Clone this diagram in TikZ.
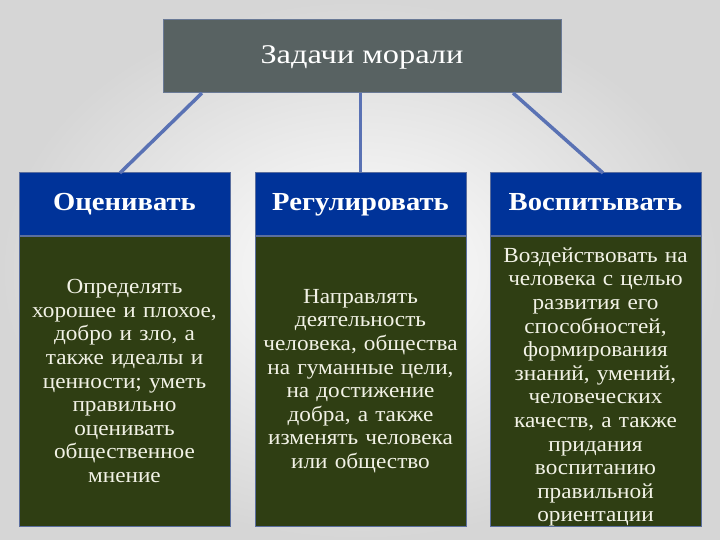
\documentclass[tikz,border=0pt]{standalone}
\usepackage{fontspec}
\setmainfont{Liberation Serif}
\newfontfamily\bodyf[FakeStretch=1.08]{Liberation Serif}
\newfontfamily\headf[FakeStretch=1.1]{Liberation Serif}
\newfontfamily\titlef[FakeStretch=1.2]{Liberation Serif}
\definecolor{bgedge}{HTML}{D6D6D6}
\definecolor{topfill}{HTML}{586262}
\definecolor{topline}{HTML}{6A7A96}
\definecolor{headfill}{HTML}{003399}
\definecolor{bodyfill}{HTML}{2F3E13}
\definecolor{boxline}{HTML}{5A6E9E}
\definecolor{link}{HTML}{5A72B4}
\definecolor{bodytext}{HTML}{F2F2E6}
\tikzset{
  topbox/.style={draw=topline, line width=1pt, fill=topfill, text=white, minimum width=398pt, minimum height=73pt, text height=19pt, text depth=3pt, font=\titlef\fontsize{27}{30}\selectfont},
  headbox/.style={draw=boxline, line width=1pt, fill=headfill, text=white, minimum width=211pt, minimum height=62pt, text height=18pt, text depth=4pt, font=\headf\fontsize{26}{30}\selectfont\bfseries},
  bodybox/.style={draw=boxline, line width=1pt, fill=bodyfill, text=bodytext, minimum width=211pt, minimum height=290pt, inner sep=1pt, text width=209pt, align=center, font=\bodyf\fontsize{21.5}{23.6}\selectfont},
  bodytxt/.style={text=bodytext, inner sep=1pt, text width=209pt, align=center, font=\bodyf\fontsize{21.5}{23.6}\selectfont},
  linkline/.style={draw=link, line width=3.5pt}
}
\begin{document}
\begin{tikzpicture}[x=1pt,y=-1pt]
\shade[inner color=white, outer color=bgedge, shading=radial] (0,0) rectangle (720,540);
\useasboundingbox (0,0) rectangle (720,540);
\node[topbox] (top) at (362,56) {Задачи морали};
\node[headbox] (h1) at (124.5,204) {Оценивать};
\node[headbox] (h2) at (360.5,204) {Регулировать};
\node[headbox] (h3) at (595.5,204) {Воспитывать};
\node[bodybox] (b1) at (124.5,381) {Определять\\хорошее и плохое,\\добро и зло, а\\также идеалы и\\ценности; уметь\\правильно\\оценивать\\общественное\\мнение};
\node[bodybox] (b2) at (360.5,381) {Направлять\\деятельность\\человека, общества\\на гуманные цели,\\на достижение\\добра, а также\\изменять человека\\или общество};
\node[bodybox] (b3) at (595.5,381) {};
\node[bodytxt] (t3) at ([yshift=-6pt]b3.center) {Воздействовать на\\человека с целью\\развития его\\способностей,\\формирования\\знаний, умений,\\человеческих\\качеств, а также\\придания\\воспитанию\\правильной\\ориентации};
\coordinate (l1a) at (202,93);
\coordinate (l3a) at (513,93);
\coordinate (l1b) at (120,173);
\coordinate (l3b) at (603,173);
\draw[linkline] (l1a) -- (l1b);
\draw[linkline] (top.south -| h2.north) -- (h2.north);
\draw[linkline] (l3a) -- (l3b);
\end{tikzpicture}
\end{document}
